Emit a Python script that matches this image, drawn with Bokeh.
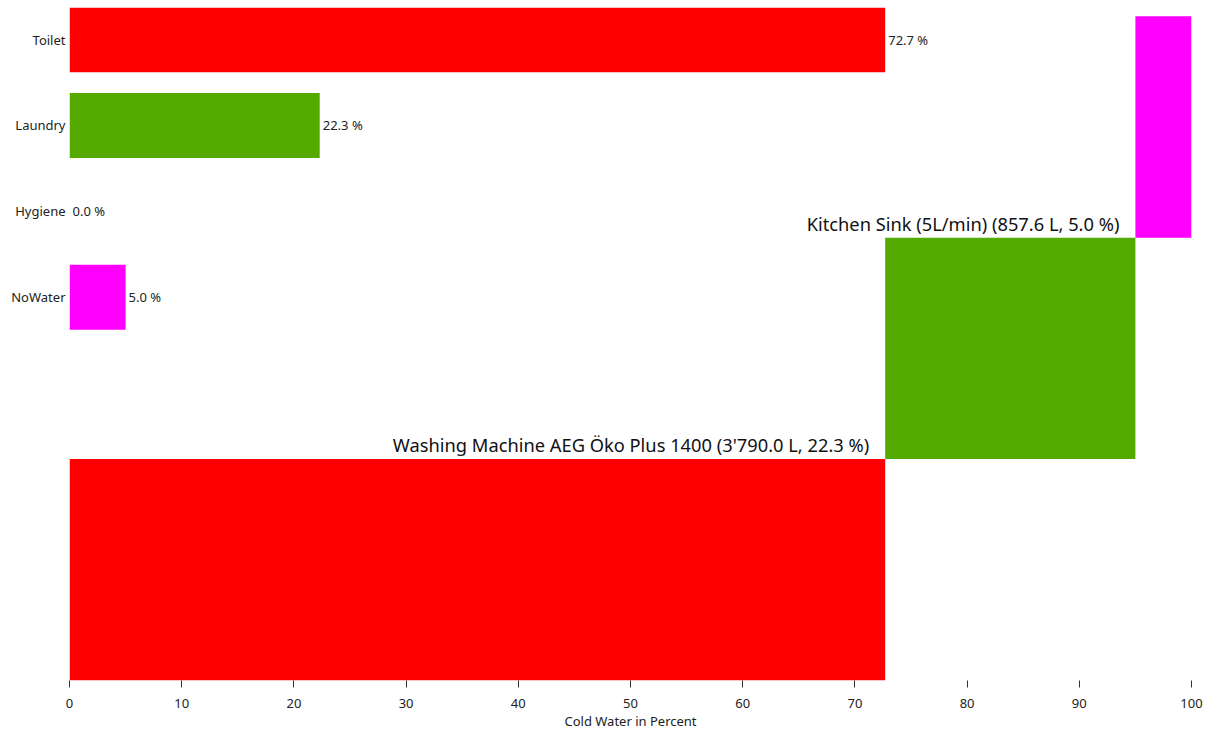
import numpy as np
from bokeh.plotting import figure
from bokeh.models import ColumnDataSource, Range1d, FixedTicker
from bokeh.core.properties import value
from bokeh.embed import file_html
from bokeh.resources import INLINE

# ---- data ----
categories = ["Toilet", "Laundry", "Hygiene", "NoWater"]
cat_values = [72.7, 22.3, 0.0, 5.0]
cat_colors = ["#FF0000", "#55AA00", "#3366CC", "#FF00FF"]

step_values = [72.7, 22.3, 5.0]
step_colors = ["#FF0000", "#55AA00", "#FF00FF"]
step_labels = ["Washing Machine AEG Öko Plus 1400 (3'790.0 L, 22.3 %)",
               "Kitchen Sink (5L/min) (857.6 L, 5.0 %)",
               ""]

x_ticks = [0, 10, 20, 30, 40, 50, 60, 70, 80, 90, 100]
x_title = "Cold Water in Percent"

FONT = "Noto Sans"

# ---- layout constants ----
Y_TOP = 3.04
CAT_START = 2.895
CAT_STEP = 0.388
CAT_H = 0.294

p = figure(width=1208, height=732, output_backend="svg", toolbar_location=None,
           x_range=Range1d(0, 100), y_range=Range1d(0, Y_TOP),
           min_border_left=69, min_border_right=17, min_border_top=7, min_border_bottom=49)
p.outline_line_color = None
p.grid.visible = False
p.background_fill_color = "white"
p.border_fill_color = "white"

# category bars
cat_y = [CAT_START - i * CAT_STEP for i in range(len(categories))]
cat_src = ColumnDataSource(dict(
    y=cat_y, right=cat_values, color=cat_colors,
    label=[f"{v:.1f} %" for v in cat_values]))
p.hbar(y="y", left=0, right="right", height=CAT_H, fill_color="color",
       line_color=None, source=cat_src)
p.text(x="right", y="y", text="label", source=cat_src, x_offset=3,
       text_align="left", text_baseline="middle", text_font=value(FONT),
       text_font_size="13px", text_color="#222222")

# stacked steps
cum = np.cumsum(step_values)
lefts = list(cum - np.array(step_values))
rights = list(cum)
bottoms = list(range(len(step_values)))
tops = [b + 1 for b in bottoms]
st_src = ColumnDataSource(dict(left=lefts, right=rights, bottom=bottoms, top=tops,
                               color=step_colors, label=step_labels))
p.quad(left="left", right="right", bottom="bottom", top="top", fill_color="color",
       line_color=None, source=st_src)
p.text(x="right", y="top", text="label", source=st_src, x_offset=-16, y_offset=-2,
       text_align="right", text_baseline="bottom", text_font=value(FONT),
       text_font_size="18.3px", text_color="#111111")

# axes
xa = p.xaxis[0]
xa.ticker = FixedTicker(ticks=x_ticks)
xa.axis_line_color = None
xa.major_tick_line_color = "#333333"
xa.major_tick_out = 7
xa.major_tick_in = 0
xa.minor_tick_line_color = None
xa.major_label_text_font = FONT
xa.major_label_text_font_size = "13px"
xa.major_label_text_color = "#222222"
xa.major_label_standoff = 11
xa.axis_label = x_title
xa.axis_label_text_font = FONT
xa.axis_label_text_font_size = "13px"
xa.axis_label_text_font_style = "normal"
xa.axis_label_text_color = "#222222"
xa.axis_label_standoff = 1

ya = p.yaxis[0]
ya.ticker = FixedTicker(ticks=cat_y)
ya.major_label_overrides = {y: c for y, c in zip(cat_y, categories)}
ya.axis_line_color = None
ya.major_tick_line_color = None
ya.major_tick_out = 0
ya.major_tick_in = 0
ya.minor_tick_line_color = None
ya.major_label_standoff = 4
ya.major_label_text_font = FONT
ya.major_label_text_font_size = "13px"
ya.major_label_text_color = "#222222"

open("out.html", "w").write(file_html(p, INLINE))
